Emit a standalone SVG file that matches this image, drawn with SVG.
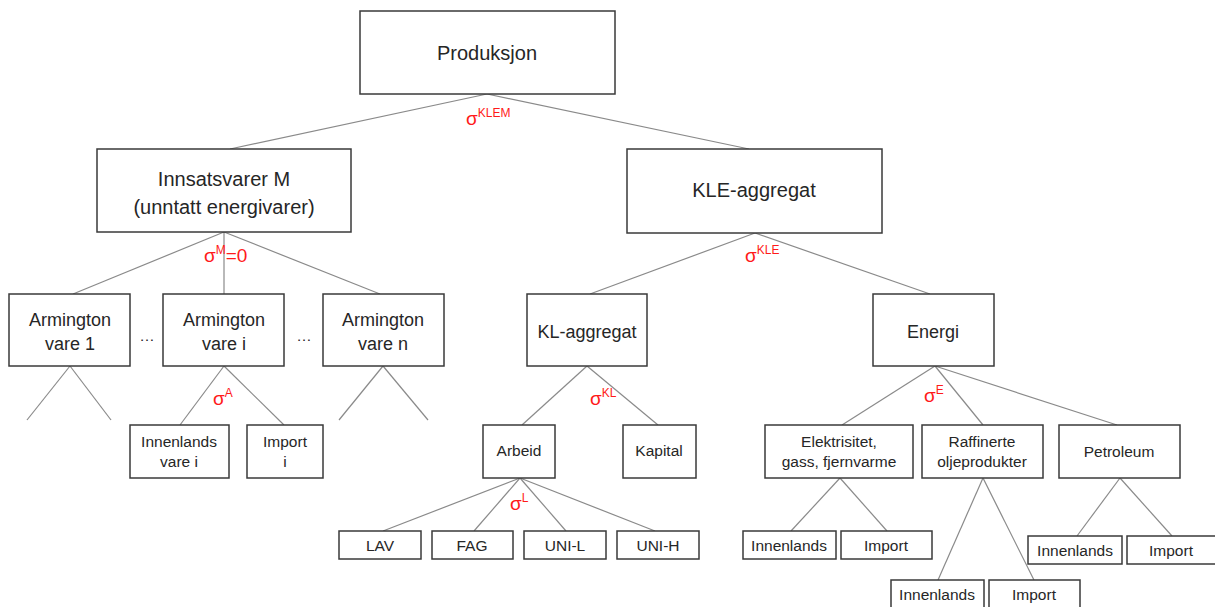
<svg xmlns="http://www.w3.org/2000/svg" width="1215" height="607" viewBox="0 0 1215 607">
<style>
.box{fill:#fff;stroke:#3a3a3a;stroke-width:1.5}
.t{font-family:"Liberation Sans",Arial,sans-serif;fill:#262626;text-anchor:middle}
.l{font-size:20px}
.m{font-size:18px}
.s{font-size:15.5px}
.c line{stroke:#8a8a8a;stroke-width:1.2}
.sg{font-family:"Liberation Sans",Arial,sans-serif;fill:#ff1a1a;font-size:19px}
.sup{font-size:12px}
</style>
<rect width="1215" height="607" fill="#fff"/>
<g id="connectors" class="c">
<line x1="487" y1="94" x2="230" y2="149"/>
<line x1="487" y1="94" x2="749" y2="149"/>
<line x1="224" y1="232" x2="73" y2="294"/>
<line x1="224" y1="232" x2="224" y2="294"/>
<line x1="224" y1="232" x2="380" y2="294"/>
<line x1="70" y1="366" x2="27" y2="420"/>
<line x1="70" y1="366" x2="111" y2="420"/>
<line x1="383" y1="366" x2="339" y2="420"/>
<line x1="383" y1="366" x2="428" y2="420"/>
<line x1="224" y1="366" x2="180" y2="425"/>
<line x1="224" y1="366" x2="284" y2="425"/>
<line x1="755" y1="233" x2="590" y2="294"/>
<line x1="755" y1="233" x2="930" y2="294"/>
<line x1="587" y1="366" x2="522" y2="425"/>
<line x1="587" y1="366" x2="658" y2="425"/>
<line x1="520" y1="478" x2="383" y2="531"/>
<line x1="520" y1="478" x2="474" y2="531"/>
<line x1="520" y1="478" x2="566" y2="531"/>
<line x1="520" y1="478" x2="655" y2="531"/>
<line x1="935" y1="366" x2="842" y2="425"/>
<line x1="935" y1="366" x2="983" y2="425"/>
<line x1="935" y1="366" x2="1117" y2="425"/>
<line x1="840" y1="478" x2="791" y2="531"/>
<line x1="840" y1="478" x2="887" y2="531"/>
<line x1="983" y1="478" x2="938" y2="580"/>
<line x1="983" y1="478" x2="1034" y2="580"/>
<line x1="1120" y1="478" x2="1077" y2="536"/>
<line x1="1120" y1="478" x2="1172" y2="536"/>
</g>
<g id="sigmas">
<text class="sg" x="466" y="125">σ<tspan class="sup" dy="-8">KLEM</tspan></text>
<text class="sg" x="204" y="262">σ<tspan class="sup" dy="-8">M</tspan><tspan dy="8">=0</tspan></text>
<text class="sg" x="745" y="262">σ<tspan class="sup" dy="-8">KLE</tspan></text>
<text class="sg" x="213" y="405">σ<tspan class="sup" dy="-8">A</tspan></text>
<text class="sg" x="590" y="405">σ<tspan class="sup" dy="-8">KL</tspan></text>
<text class="sg" x="510" y="510">σ<tspan class="sup" dy="-8">L</tspan></text>
<text class="sg" x="924" y="402">σ<tspan class="sup" dy="-8">E</tspan></text>
</g>
<g id="produksjon"><rect class="box" x="360" y="11" width="255" height="83"/><text class="t l" x="487" y="60">Produksjon</text></g>
<g id="innsatsvarer"><rect class="box" x="97" y="149" width="254" height="83"/><text class="t l" x="224" y="186">Innsatsvarer M</text><text class="t l" x="224" y="214">(unntatt energivarer)</text></g>
<g id="kle"><rect class="box" x="627" y="149" width="255" height="84"/><text class="t l" x="754" y="197">KLE-aggregat</text></g>
<g id="arm1"><rect class="box" x="9" y="294" width="121" height="72"/><text class="t m" x="70" y="326">Armington</text><text class="t m" x="70" y="350">vare 1</text></g>
<g id="armi"><rect class="box" x="163" y="294" width="121" height="72"/><text class="t m" x="224" y="326">Armington</text><text class="t m" x="224" y="350">vare i</text></g>
<g id="armn"><rect class="box" x="323" y="294" width="121" height="72"/><text class="t m" x="383" y="326">Armington</text><text class="t m" x="383" y="350">vare n</text></g>
<g id="dots"><text class="t s" x="147" y="341">…</text><text class="t s" x="304" y="341">…</text></g>
<g id="innvarei"><rect class="box" x="130" y="425" width="99" height="53"/><text class="t s" x="179" y="447">Innenlands</text><text class="t s" x="179" y="467">vare i</text></g>
<g id="importi"><rect class="box" x="247" y="425" width="76" height="53"/><text class="t s" x="285" y="447">Import</text><text class="t s" x="285" y="467">i</text></g>
<g id="kl"><rect class="box" x="527" y="294" width="120" height="72"/><text class="t m" x="587" y="338">KL-aggregat</text></g>
<g id="energi"><rect class="box" x="873" y="294" width="121" height="72"/><text class="t m" x="933" y="338">Energi</text></g>
<g id="arbeid"><rect class="box" x="483" y="425" width="72" height="53"/><text class="t s" x="519" y="456">Arbeid</text></g>
<g id="kapital"><rect class="box" x="623" y="425" width="73" height="53"/><text class="t s" x="659" y="456">Kapital</text></g>
<g id="lav"><rect class="box" x="339" y="531" width="82" height="28"/><text class="t s" x="380" y="551">LAV</text></g>
<g id="fag"><rect class="box" x="432" y="531" width="81" height="28"/><text class="t s" x="472" y="551">FAG</text></g>
<g id="unil"><rect class="box" x="524" y="531" width="82" height="28"/><text class="t s" x="565" y="551">UNI-L</text></g>
<g id="unih"><rect class="box" x="617" y="531" width="82" height="28"/><text class="t s" x="658" y="551">UNI-H</text></g>
<g id="elektrisitet"><rect class="box" x="765" y="425" width="148" height="53"/><text class="t s" x="839" y="447">Elektrisitet,</text><text class="t s" x="839" y="467">gass, fjernvarme</text></g>
<g id="raffinerte"><rect class="box" x="922" y="425" width="121" height="53"/><text class="t s" x="982" y="447">Raffinerte</text><text class="t s" x="982" y="467">oljeprodukter</text></g>
<g id="petroleum"><rect class="box" x="1059" y="425" width="121" height="53"/><text class="t s" x="1119" y="457">Petroleum</text></g>
<g id="inn1"><rect class="box" x="743" y="531" width="93" height="28"/><text class="t s" x="789" y="551">Innenlands</text></g>
<g id="imp1"><rect class="box" x="841" y="531" width="91" height="28"/><text class="t s" x="886" y="551">Import</text></g>
<g id="inn2"><rect class="box" x="891" y="580" width="93" height="35"/><text class="t s" x="937" y="600">Innenlands</text></g>
<g id="imp2"><rect class="box" x="989" y="580" width="91" height="35"/><text class="t s" x="1034" y="600">Import</text></g>
<g id="inn3"><rect class="box" x="1028" y="536" width="94" height="28"/><text class="t s" x="1075" y="556">Innenlands</text></g>
<g id="imp3"><rect class="box" x="1127" y="536" width="92" height="28"/><text class="t s" x="1171" y="556">Import</text></g>
</svg>
